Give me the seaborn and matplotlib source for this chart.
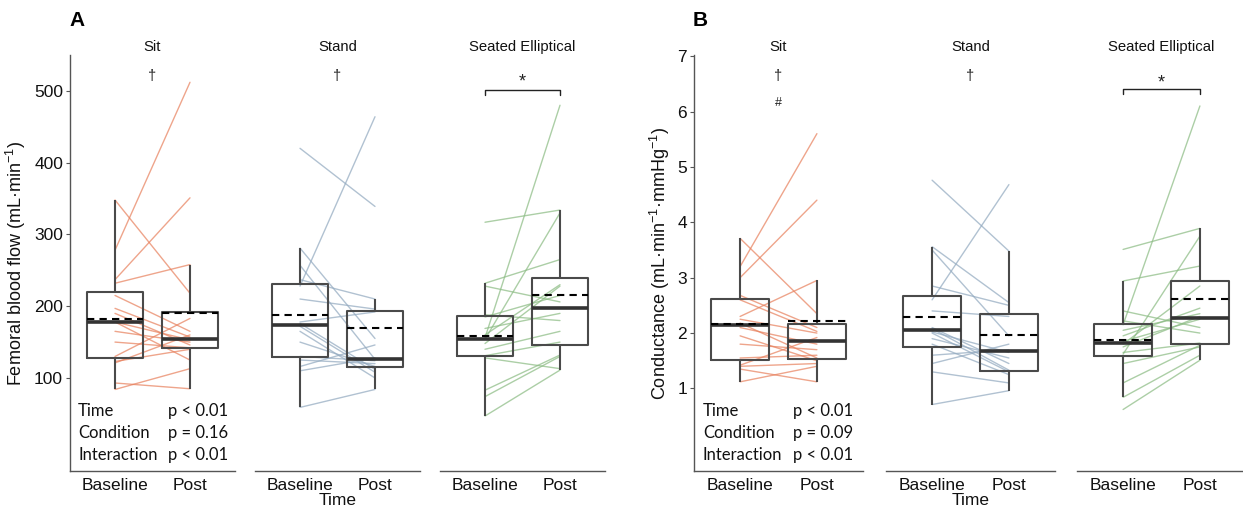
import numpy as np
import pandas as pd
import matplotlib
matplotlib.use("Agg")
import matplotlib.pyplot as plt
import seaborn as sns

# ---------------- data ----------------
conditions = ["Sit", "Stand", "Seated Elliptical"]
times = ["Baseline", "Post"]

# Panel A: femoral blood flow (mL/min), one entry per participant
fbf_sit_base = [278, 348, 237, 232, 215, 197, 190, 178, 178, 165, 150, 130, 123, 121, 93, 84]
fbf_sit_post = [512, 218, 351, 258, 165, 157, 146, 125, 153, 150, 142, 183, 140, 160, 85, 113]
fbf_stand_base = [420, 228, 281, 257, 237, 210, 178, 176, 172, 165, 150, 130, 125, 116, 110, 59]
fbf_stand_post = [339, 464, 155, 126, 210, 196, 192, 112, 108, 100, 116, 124, 120, 146, 128, 84]
fbf_se_base = [317, 232, 228, 156, 154, 188, 185, 169, 160, 148, 140, 131, 128, 83, 74, 47]
fbf_se_post = [334, 265, 206, 480, 330, 180, 215, 190, 230, 228, 165, 150, 113, 132, 130, 111]

# Panel B: conductance (mL/min/mmHg)
cond_sit_base = [3.20, 3.00, 3.71, 2.30, 2.68, 2.60, 2.25, 2.18, 2.10, 1.95, 1.80, 1.55, 1.42, 1.40, 1.35, 1.12]
cond_sit_post = [5.60, 4.40, 2.35, 2.95, 2.10, 2.03, 2.00, 1.55, 1.80, 1.50, 1.70, 1.60, 1.92, 1.45, 1.12, 1.40]
cond_stand_base = [4.76, 2.60, 3.56, 3.50, 2.85, 2.40, 2.10, 2.08, 2.02, 2.00, 1.90, 1.80, 1.60, 1.45, 1.30, 0.71]
cond_stand_post = [3.48, 4.68, 2.55, 1.95, 2.50, 2.30, 1.45, 1.33, 1.65, 1.30, 1.55, 1.25, 1.70, 1.80, 1.10, 0.96]
cond_se_base = [3.51, 2.15, 2.94, 1.62, 2.40, 2.22, 2.05, 1.95, 1.85, 1.80, 1.75, 1.65, 1.45, 1.10, 0.84, 0.62]
cond_se_post = [3.89, 6.10, 3.21, 3.75, 2.10, 2.00, 2.35, 2.45, 2.25, 2.85, 2.30, 1.82, 1.75, 1.78, 1.60, 1.51]

stats_labels = ["Time", "Condition", "Interaction"]
stats_A = ["p < 0.01", "p = 0.16", "p < 0.01"]
stats_B = ["p < 0.01", "p = 0.09", "p < 0.01"]

line_colors = {"Sit": "#E8825F", "Stand": "#93AAC0", "Seated Elliptical": "#8CBC84"}


def build(pairs):
    rows = []
    for cond, (b, p) in zip(conditions, pairs):
        for i, (vb, vp) in enumerate(zip(b, p)):
            rows.append((cond, "Baseline", 0, i, vb))
            rows.append((cond, "Post", 1, i, vp))
    return pd.DataFrame(rows, columns=["Condition", "Time", "tpos", "Subject", "value"])


dfA = build([(fbf_sit_base, fbf_sit_post), (fbf_stand_base, fbf_stand_post), (fbf_se_base, fbf_se_post)])
dfB = build([(cond_sit_base, cond_sit_post), (cond_stand_base, cond_stand_post), (cond_se_base, cond_se_post)])

# ---------------- style ----------------
sns.set_theme(style="white")
plt.rcParams["font.family"] = ["Liberation Sans", "DejaVu Sans"]
plt.rcParams["mathtext.fontset"] = "custom"
plt.rcParams["mathtext.rm"] = "Liberation Sans"
plt.rcParams["mathtext.it"] = "Liberation Sans:italic"
plt.rcParams["mathtext.bf"] = "Liberation Sans:bold"

W, H = 1243, 508
fig = plt.figure(figsize=(W / 100, H / 100), dpi=100)
fig.patch.set_facecolor("white")

AX_TOP, AX_BOT = 55, 471
axis_col = "#555555"
box_col = "#4a4a4a"


def add_ax(left_px, width_px):
    return fig.add_axes([left_px / W, 1 - AX_BOT / H, width_px / W, (AX_BOT - AX_TOP) / H])


def draw_panel(df, lefts, width, ylim, yticks, ylabel, stats, stats_x, letter, letter_x,
               marks, bracket_y, star_y):
    axes = []
    for k, cond in enumerate(conditions):
        ax = add_ax(lefts[k], width)
        sub = df[df["Condition"] == cond]
        sns.lineplot(data=sub, x="tpos", y="value", units="Subject", estimator=None,
                     color=line_colors[cond], alpha=0.72, linewidth=1.0, ax=ax,
                     sort=False, legend=False, zorder=1)
        sns.boxplot(data=sub, x="tpos", y="value", ax=ax, width=0.75, fill=False,
                    color=box_col, linewidth=1.5, showfliers=False, showcaps=False,
                    whis=1.5, showmeans=True, meanline=True, native_scale=False,
                    boxprops=dict(color=box_col, linewidth=1.5),
                    whiskerprops=dict(color=box_col, linewidth=1.5),
                    medianprops=dict(color="#333333", linewidth=2.6),
                    meanprops=dict(color="black", linestyle=(0, (3.5, 2.5)), linewidth=1.5),
                    zorder=2)
        ax.set_xlim(-0.6, 1.6)
        ax.set_ylim(*ylim)
        ax.set_xticks([0, 1])
        ax.set_xticklabels(times, fontsize=12.5, color="#111111")
        ax.set_title(cond, fontsize=10.7, pad=3, color="#111111")
        for s in ["top", "right"]:
            ax.spines[s].set_visible(False)
        ax.spines["bottom"].set_color(axis_col)
        ax.spines["bottom"].set_linewidth(1.0)
        ax.tick_params(axis="x", length=3, width=0.8, color=axis_col, pad=2)
        if k == 0:
            ax.spines["left"].set_color(axis_col)
            ax.spines["left"].set_linewidth(1.0)
            ax.set_yticks(yticks)
            ax.set_yticklabels([str(t) for t in yticks], fontsize=12.5, color="#111111")
            ax.tick_params(axis="y", length=3, width=0.8, color=axis_col, pad=2, left=True)
            ax.set_ylabel(ylabel, fontsize=13, labelpad=4, color="#111111")
        else:
            ax.spines["left"].set_visible(False)
            ax.set_yticks([])
            ax.set_ylabel("")
        ax.set_xlabel("Time" if k == 1 else "", fontsize=12.5, labelpad=0, color="#111111")
        ax.patch.set_alpha(0)
        axes.append(ax)

    # significance marks
    axes[0].text(0.5, marks[0], "\u2020", ha="center", va="center", fontsize=10.5, color="#222222")
    axes[1].text(0.5, marks[0], "\u2020", ha="center", va="center", fontsize=10.5, color="#222222")
    if len(marks) > 1:
        axes[0].text(0.5, marks[1], "#", ha="center", va="center", fontsize=9, color="#222222")
    ax3 = axes[2]
    tick = (ylim[1] - ylim[0]) * 0.012
    ax3.plot([0, 0, 1, 1], [bracket_y - tick, bracket_y, bracket_y, bracket_y - tick],
             color="#222222", linewidth=1.0)
    ax3.text(0.5, star_y, "*", ha="center", va="center", fontsize=13, color="#222222")

    # stats text
    ys = [411, 433, 455]
    for lab, val, ypx in zip(stats_labels, stats, ys):
        fig.text(stats_x[0] / W, 1 - ypx / H, lab, ha="left", va="center",
                 fontsize=12, family=["Lato", "DejaVu Sans"], color="#111111")
        fig.text(stats_x[1] / W, 1 - ypx / H, val, ha="left", va="center",
                 fontsize=12, family=["Lato", "DejaVu Sans"], color="#111111")
    fig.text(letter_x / W, 1 - 20 / H, letter, ha="left", va="center",
             fontsize=15, fontweight="bold", color="black")
    return axes


draw_panel(dfA, [70, 255, 440], 165, (-29.6, 550), [100, 200, 300, 400, 500],
           "Femoral blood flow (mL\u00b7min$^{-1}$)", stats_A, (78, 168), "A", 69,
           [521], 501, 512)
draw_panel(dfB, [694, 886, 1077], 169, (-0.49, 7.02), [1, 2, 3, 4, 5, 6, 7],
           "Conductance (mL\u00b7min$^{-1}$\u00b7mmHg$^{-1}$)", stats_B, (703, 793), "B", 693,
           [6.64, 6.15], 6.40, 6.52)

fig.savefig("out.png", dpi=100, facecolor="white")
